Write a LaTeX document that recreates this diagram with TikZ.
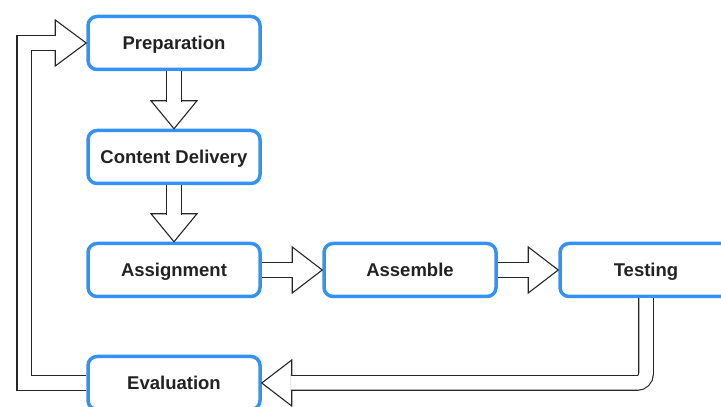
\documentclass[tikz,border=0pt]{standalone}
\usepackage{fontspec}
\setmainfont{Liberation Sans}
\usetikzlibrary{calc}
\definecolor{boxblue}{RGB}{52,146,245}
\definecolor{txtgray}{RGB}{34,34,34}

\begin{document}
\begin{tikzpicture}[x=1pt,y=1pt,
    stage/.style={draw=boxblue, line width=3.5pt, rounded corners=9pt, fill=white,
      minimum width=172pt, minimum height=53pt, inner sep=0pt, text height=17pt, text depth=4pt,
      text=txtgray, font=\fontsize{18.5}{22}\selectfont\bfseries},
    shaft/.style={draw=black!85, line width=1.1pt, double=white, double distance=13.5pt},
    head/.style={draw=black!85, line width=1.1pt, fill=white, line join=miter}]
	\useasboundingbox (0,0) rectangle (721,407);
	\node[stage] (prep) at (174,364) {Preparation};
	\node[stage] (cont) at (174,250) {Content Delivery};
	\node[stage] (asgn) at (174,137) {Assignment};
	\node[stage] (asm) at (410,137) {Assemble};
	\node[stage] (test) at (646,137) {Testing};
	\node[stage] (eval) at (174,24) {Evaluation};
	\draw[head] (cont.north) -- ++(-23,28) -- ++(46,0) -- cycle;
	\draw[shaft] (prep.south) -- ($(cont.north)+(0,27)$);
	\draw[head] (asgn.north) -- ++(-23,28) -- ++(46,0) -- cycle;
	\draw[shaft] (cont.south) -- ($(asgn.north)+(0,27)$);
	\draw[head] (asm.west) -- ++(-30,23) -- ++(0,-46) -- cycle;
	\draw[shaft] (asgn.east) -- ($(asm.west)+(-29,0)$);
	\draw[head] (test.west) -- ++(-30,23) -- ++(0,-46) -- cycle;
	\draw[shaft] (asm.east) -- ($(test.west)+(-29,0)$);
	\draw[head] (eval.east) -- ++(30,23) -- ++(0,-46) -- cycle;
	\draw[shaft, rounded corners=9pt] (test.south) |- ($(eval.east)+(29,0)$);
	\draw[head] (prep.west) -- ++(-31,23) -- ++(0,-46) -- cycle;
	\draw[shaft] (eval.west) -- ++(-62,0) |- ($(prep.west)+(-30,0)$);
\end{tikzpicture}
\end{document}
